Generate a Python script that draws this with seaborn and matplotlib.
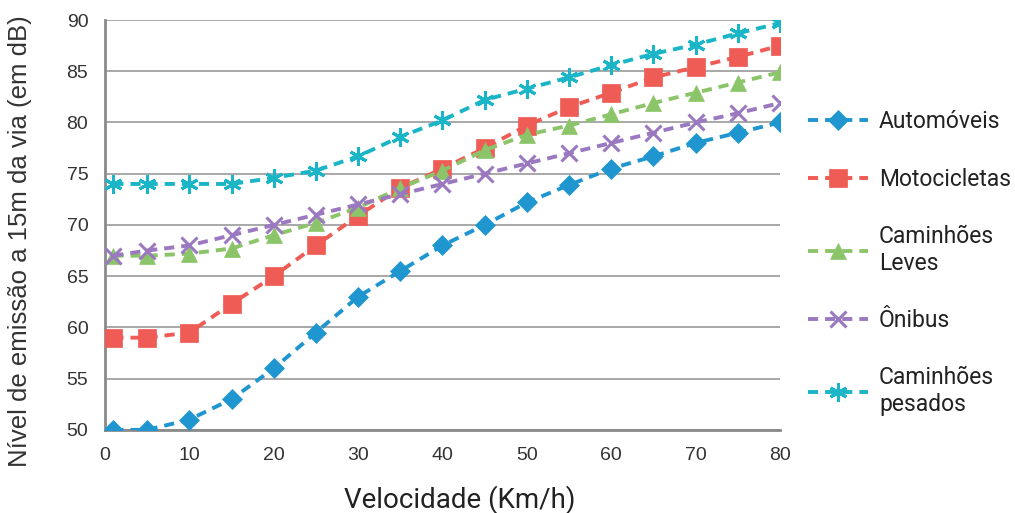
import matplotlib
matplotlib.use("Agg")
import matplotlib.pyplot as plt
import seaborn as sns
import pandas as pd

# velocidade (km/h)
velocidade = [1, 5, 10, 15, 20, 25, 30, 35, 40, 45, 50, 55, 60, 65, 70, 75, 80]

automoveis = [50, 50, 51, 53, 56, 59.5, 63, 65.5, 68, 70, 72.2, 73.9, 75.5, 76.7, 78, 79, 80]
motocicletas = [59, 59, 59.5, 62.3, 65, 68, 70.9, 73.6, 75.5, 77.5, 79.7, 81.5, 82.9, 84.4, 85.4, 86.4, 87.5]
caminhoes_leves = [67, 67, 67.2, 67.7, 69, 70.2, 71.7, 73.6, 75.3, 77.3, 78.8, 79.7, 80.8, 81.9, 82.9, 83.9, 84.9]
onibus = [67, 67.5, 68, 69, 70, 71, 72, 73, 74, 75, 76, 77, 78, 79, 80, 80.9, 81.9]
caminhoes_pesados = [74, 74, 74, 74, 74.6, 75.3, 76.7, 78.6, 80.2, 82.2, 83.3, 84.4, 85.6, 86.7, 87.6, 88.7, 89.7]

series_nomes = ["Automóveis", "Motocicletas", "Caminhões\nLeves", "Ônibus", "Caminhões\npesados"]
series_vals = [automoveis, motocicletas, caminhoes_leves, onibus, caminhoes_pesados]
cores = ["#1f96cf", "#ef5b55", "#8cc569", "#9a79c0", "#1ab5c6"]
marcadores = ["D", "s", "^", "x", (6, 2, 0)]
tamanhos = [10, 13, 12, 11, 13]

rows = []
for nome, vals in zip(series_nomes, series_vals):
    for v, y in zip(velocidade, vals):
        rows.append({"Velocidade": v, "Nivel": y, "Tipo": nome})
df = pd.DataFrame(rows)

sns.set_style("white")
plt.rcParams['font.family'] = ['Liberation Sans', 'DejaVu Sans']

fig = plt.figure(figsize=(10.15, 5.13), dpi=100)
ax = fig.add_axes([0.1034, 0.162, 0.6651, 0.799])

for i, nome in enumerate(series_nomes):
    sub = df[df["Tipo"] == nome]
    sns.lineplot(data=sub, x="Velocidade", y="Nivel", ax=ax, color=cores[i],
                 marker=marcadores[i], markersize=tamanhos[i],
                 markeredgewidth=2.2 if i >= 3 else 0.5,
                 markeredgecolor=cores[i], linewidth=2.8,
                 dashes=False, label=nome, zorder=3 + i)
    ax.lines[-1].set_dashes([2.6, 1.8])

ax.set_xlim(0, 80)
ax.set_ylim(50, 90)
ax.set_xticks(range(0, 81, 10))
ax.set_yticks(range(50, 91, 5))
ax.yaxis.grid(True, color="#a8a8a8", linewidth=1.4)
ax.xaxis.grid(False)
for s in ["top", "right"]:
    ax.spines[s].set_visible(False)
ax.spines["left"].set_color("#8a8a8a")
ax.spines["left"].set_linewidth(2)
ax.spines["bottom"].set_color("#8a8a8a")
ax.spines["bottom"].set_linewidth(2)
ax.tick_params(axis="both", which="both", direction="out", length=5, width=1.4,
               color="#8a8a8a", labelsize=14, labelcolor="#333333")
ax.tick_params(axis="x", pad=7)
ax.tick_params(axis="y", pad=7)

ax.set_xlabel("Velocidade (Km/h)", fontsize=20, family=["Roboto", "DejaVu Sans"],
              color="#222222")
ax.xaxis.set_label_coords(0.526, -0.135)
ax.set_ylabel("Nível de emissão a 15m da via (em dB)", fontsize=18.5, color="#333333")
ax.yaxis.set_label_coords(-0.108, 0.461)

handles, labels = ax.get_legend_handles_labels()
ax.get_legend().remove()
for h in handles:
    h.set_dashes([2.6, 1.8])
fig.legend(handles, labels, loc="center left", bbox_to_anchor=(808 / 1015, 1 - 263 / 513),
           frameon=False, prop={"family": ["Roboto", "DejaVu Sans"], "size": 16.5},
           labelspacing=1.5, handlelength=2.6, handletextpad=0.5, borderpad=0,
           borderaxespad=0, labelcolor="#222222")

fig.savefig("out.png", dpi=100)
